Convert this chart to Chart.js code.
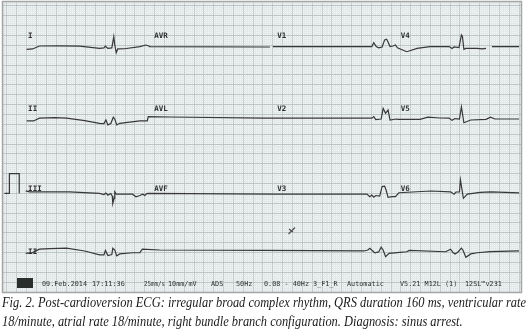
<!DOCTYPE html>
<html lang="en">
<head>
<meta charset="utf-8">
<style>
    html, body { margin: 0; padding: 0; background: #fff; }
</style>
</head>
<body>
<canvas id="ecgChart" width="528" height="333"></canvas>

<script src="https://cdn.jsdelivr.net/npm/chart.js@4.4.1/dist/chart.umd.min.js"></script>
<script>
// time in seconds from the start of the strip, amplitude in mV from the row baseline
var timeRow1 = [0, 0.12, 0.26, 0.67, 1.08, 1.48, 1.57, 1.60, 1.65, 1.73, 1.77, 1.79, 1.82, 1.85, 1.99, 2.30, 2.42, 2.48,
    2.50, 4.94, 4.97, 5.00, 7.01, 7.05, 7.10, 7.15, 7.22, 7.27, 7.31, 7.34, 7.38, 7.44, 7.49,
    7.53, 7.72, 7.93, 8.19, 8.58, 8.64, 8.68, 8.78, 8.83, 8.85, 8.88, 8.92, 9.15, 9.25, 9.33, 9.37, 9.45, 10.00];
var voltRow1 = [-0.12, -0.10, 0.05, 0.06, 0.04, -0.07, -0.05, 0.04, -0.07, -0.05, 0.52, 0.10, -0.29, -0.10, -0.09, 0.02, 0.10, 0.05,
    0.02, 0.00, null, 0.02, 0.02, 0.22, 0.02, -0.04, 0.00, 0.36, 0.39, 0.25, 0.02, 0.05, 0.10,
    -0.04, -0.24, -0.07, 0.02, 0.02, -0.08, 0.00, -0.03, 0.61, 0.55, -0.12, -0.07, -0.07, -0.10, -0.07, null, 0.02, 0.02];

var timeRow2 = [0, 0.14, 0.26, 0.57, 0.81, 1.18, 1.48, 1.57, 1.61, 1.65, 1.71, 1.76, 1.79, 1.83, 1.89, 2.30, 2.45,
    2.47, 2.91, 4.82, 5.00, 7.01, 7.05, 7.09, 7.20, 7.24, 7.29, 7.34, 7.38, 7.50,
    7.54, 7.99, 8.15, 8.39, 8.58, 8.64, 8.70, 8.79, 8.83, 8.88, 9.02, 9.33, 9.42, 9.51, 10.00];
var voltRow2 = [-0.10, -0.10, 0.04, 0.07, 0.04, -0.08, -0.22, -0.23, -0.05, -0.30, -0.23, 0.09, 0.00, -0.30, -0.22, -0.10, -0.10,
    0.12, 0.10, 0.04, 0.04, 0.04, 0.12, -0.03, 0.00, 0.54, 0.29, 0.46, -0.05, 0.00,
    -0.02, -0.02, 0.09, 0.05, 0.04, -0.07, 0.02, 0.00, 0.62, -0.19, -0.05, -0.02, 0.09, 0.00, 0.00];

var timeRow3 = [-0.02, 0.06, 0.87, 1.48, 1.57, 1.61, 1.65, 1.71, 1.74, 1.75, 1.78, 1.79, 1.82, 1.89, 2.15, 2.22, 2.30, 2.36, 2.40, 2.44,
    2.47, 4.98, 6.91, 6.97, 7.01, 7.05, 7.09, 7.17, 7.22, 7.27, 7.30, 7.34, 7.42, 7.49,
    7.56, 8.21, 8.61, 8.68, 8.72, 8.79, 8.81, 8.87, 8.95, 9.21, 9.43, 10.00];
var voltRow3 = [0.13, 0.08, 0.08, 0.00, -0.06, 0.02, -0.09, -0.01, -0.14, -0.51, -0.24, 0.08, -0.04, -0.04, -0.04, -0.17, -0.11, -0.04, -0.11, -0.01,
    0.00, -0.04, -0.04, -0.17, -0.09, -0.19, -0.11, -0.14, 0.35, 0.37, 0.17, -0.20, -0.17, -0.17,
    0.03, 0.12, 0.08, -0.04, 0.07, 0.07, 0.68, -0.25, -0.04, 0.05, 0.08, 0.02];

var timeRow4 = [-0.02, 0.12, 0.26, 0.47, 0.81, 1.18, 1.48, 1.57, 1.60, 1.65, 1.73, 1.75, 1.79, 1.83, 1.89, 2.15, 2.30, 2.35, 2.70,
    4.82, 6.85, 6.93, 6.97, 7.03, 7.07, 7.15, 7.20, 7.24, 7.29, 7.36, 7.58, 7.72, 7.77,
    8.51, 8.61, 8.66, 8.70, 8.76, 8.83, 8.86, 8.92, 9.02, 9.15, 9.41, 10.00];
var voltRow4 = [-0.12, -0.08, 0.09, 0.12, 0.14, 0.00, -0.20, -0.20, 0.03, -0.23, -0.18, 0.14, 0.05, -0.25, -0.15, -0.09, -0.08, 0.09, 0.05,
    0.03, 0.00, 0.05, 0.13, 0.00, -0.10, -0.05, 0.19, 0.05, -0.29, -0.12, -0.07, -0.04, 0.03,
    -0.04, 0.09, -0.08, -0.15, -0.05, 0.14, 0.05, -0.32, -0.15, -0.09, -0.03, 0.00];

// 1 mV calibration pulse in front of row 3
var calTime = [-0.45, -0.35, -0.35, -0.15, -0.15];
var calVolt = [0, 0, 1, 1, 0];

var leadNames = [
    ["I", "AVR", "V1", "V4"],
    ["II", "AVL", "V2", "V5"],
    ["III", "AVF", "V3", "V6"],
    ["II"]
];

var footerItems = ["09.Feb.2014", "17:11:36", "25mm/s", "10mm/mV", "ADS", "50Hz", "0.08 - 40Hz",
    "3_F1_R", "Automatic", "V5.21 M12L (1)", "12SL\u2122v231"];

var captionLines = [
    "Fig. 2. Post-cardioversion ECG: irregular broad complex rhythm, QRS duration 160 ms, ventricular rate",
    "18/minute, atrial rate 18/minute, right bundle branch configuration. Diagnosis: sinus arrest."
];

// layout of the paper
var rowOffset = [12.42, 8.77, 5.00, 2.08];     // baseline of each row in mV on the y scale
var labelLift = [0.48, 0.41, 0.12, -0.15];     // label baseline above the trace, mV
var labelTime = [0.03, 2.59, 5.09, 7.60];
var footerX = [42, 92, 144, 168, 211, 236, 264, 313, 347, 400, 465];

function toPoints(times, volts, offset) {
    var pts = [];
    for (var i = 0; i < times.length; i++) {
        pts.push({ x: times[i], y: volts[i] === null ? null : volts[i] + offset });
    }
    return pts;
}

function traceSet(times, volts, offset) {
    return {
        data: toPoints(times, volts, offset),
        borderColor: '#383838',
        borderWidth: 1.2,
        pointRadius: 0,
        tension: 0,
        spanGaps: false
    };
}

function gridStyle(step, minor, major, forWidth) {
    return function (ctx) {
        var k = ctx.tick.value / step;
        var r = Math.round(k);
        if (Math.abs(k - r) > 1e-4) return forWidth ? 0 : 'rgba(0,0,0,0)';
        var isMajor = ((r % 5) + 5) % 5 === 0;
        return isMajor ? major : minor;
    };
}

var paperPlugin = {
    id: 'paper',
    beforeDraw: function (chart) {
        var c = chart.ctx, a = chart.chartArea;
        c.save();
        c.fillStyle = '#ffffff';
        c.fillRect(0, 0, chart.width, chart.height);
        c.fillStyle = '#f1f4f4';
        c.fillRect(a.left, a.top, a.right - a.left, a.bottom - a.top);
        c.restore();
    },
    afterDatasetsDraw: function (chart) {
        var c = chart.ctx, a = chart.chartArea;
        var xs = chart.scales.x, ys = chart.scales.y;
        c.save();

        // lead names
        c.fillStyle = '#2e2e2e';
        c.font = 'bold 7.5px "DejaVu Sans Mono"';
        c.textBaseline = 'alphabetic';
        for (var r = 0; r < leadNames.length; r++) {
            for (var j = 0; j < leadNames[r].length; j++) {
                c.fillText(leadNames[r][j], xs.getPixelForValue(labelTime[j]),
                    ys.getPixelForValue(rowOffset[r] + labelLift[r]));
            }
        }

        // pen mark on the paper between rows 3 and 4
        c.strokeStyle = '#555';
        c.lineWidth = 1.3;
        c.beginPath();
        c.moveTo(295, 227.5); c.lineTo(288.5, 234);
        c.moveTo(289, 229); c.lineTo(293, 232);
        c.stroke();

        // printer footer
        c.fillStyle = '#2a2f2e';
        c.fillRect(17, 278, 16, 10);
        c.fillStyle = '#333';
        c.font = '6.8px "DejaVu Sans Mono"';
        c.textBaseline = 'middle';
        for (var f = 0; f < footerItems.length; f++) {
            var room = (f + 1 < footerX.length ? footerX[f + 1] : 506) - footerX[f] - 3;
            c.fillText(footerItems[f], footerX[f], 284.5, room);
        }

        // frame
        c.strokeStyle = '#a3a6a5';
        c.lineWidth = 1.5;
        c.strokeRect(a.left - 0.5, a.top - 0.5, a.right - a.left + 1, a.bottom - a.top + 1);
        c.restore();
    },
    afterDraw: function (chart) {
        var c = chart.ctx;
        c.save();
        c.fillStyle = '#1a1a1a';
        c.font = 'italic 15px "Liberation Serif"';
        c.textBaseline = 'alphabetic';
        var sx = 524 / c.measureText(captionLines[0]).width;
        var base = [307, 326];
        for (var i = 0; i < captionLines.length; i++) {
            c.save();
            c.translate(2, base[i]);
            c.scale(sx, 1);
            c.fillText(captionLines[i], 0, 0);
            c.restore();
        }
        c.restore();
    }
};

var datasets = [
    traceSet(timeRow1, voltRow1, rowOffset[0]),
    traceSet(timeRow2, voltRow2, rowOffset[1]),
    traceSet(timeRow3, voltRow3, rowOffset[2]),
    traceSet(timeRow4, voltRow4, rowOffset[3]),
    traceSet(calTime, calVolt, rowOffset[2])
];

var ctx = document.getElementById('ecgChart').getContext('2d');
var ecgChart = new Chart(ctx, {
    type: 'line',
    data: { datasets: datasets },
    options: {
        responsive: false,
        animation: false,
        layout: { padding: { left: 3, right: 7, top: 2, bottom: 41 } },
        plugins: { legend: { display: false }, tooltip: { enabled: false } },
        scales: {
            x: {
                type: 'linear',
                min: -0.48,
                max: 10.04,
                ticks: { display: false, stepSize: 0.04 },
                border: { display: false },
                grid: {
                    drawTicks: false,
                    color: gridStyle(0.04, '#dde2e2', '#bcc4c5', false),
                    lineWidth: gridStyle(0.04, 0.6, 1, true)
                }
            },
            y: {
                type: 'linear',
                min: 0,
                max: 14.7,
                ticks: { display: false, stepSize: 0.1 },
                border: { display: false },
                grid: {
                    drawTicks: false,
                    color: gridStyle(0.1, '#dde2e2', '#bcc4c5', false),
                    lineWidth: gridStyle(0.1, 0.6, 1, true)
                }
            }
        }
    },
    plugins: [paperPlugin]
});
</script>
</body>
</html>
